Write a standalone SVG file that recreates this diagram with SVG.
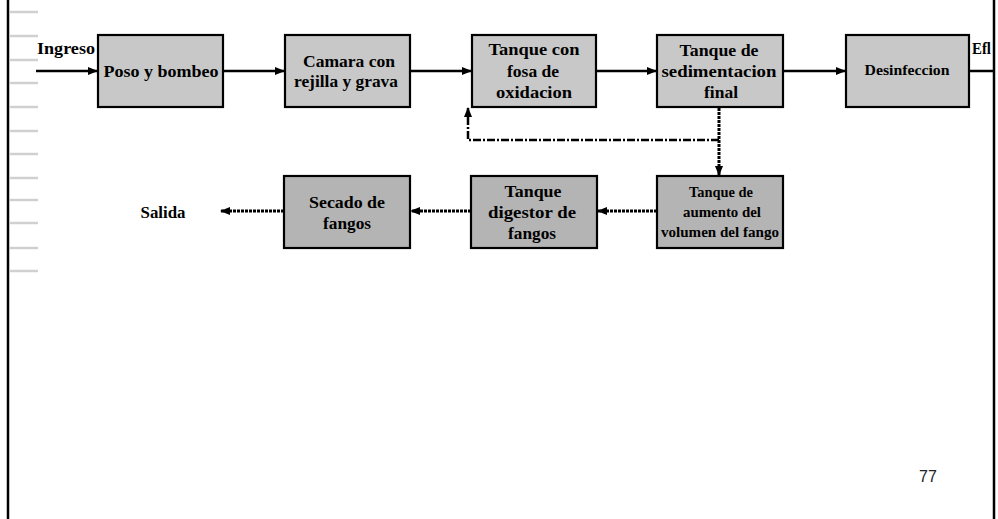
<svg xmlns="http://www.w3.org/2000/svg" width="998" height="519" viewBox="0 0 998 519">
<style>
.bx{stroke:#000;stroke-width:2.2}
.top{fill:#c8c8c8}
.bot{fill:#b4b4b4}
.t{font-family:"Liberation Serif",serif;font-weight:bold;font-size:17px;fill:#000;text-anchor:middle}
.m{font-size:15px}
.s{font-size:14px}
.c{stroke:#000;stroke-width:2.5;fill:none}
.dot{stroke:#000;stroke-width:3;fill:none;stroke-dasharray:3 1}
.dd{stroke:#000;stroke-width:2.5;fill:none;stroke-dasharray:8 2 2 2}
.tick{stroke:#d0d0d0;stroke-width:2.5}
</style>
<defs>
<marker id="ah" markerWidth="10" markerHeight="8" refX="9" refY="4" orient="auto" markerUnits="userSpaceOnUse">
<path d="M0,0 L10,4 L0,8 z" fill="#000"/>
</marker>
</defs>
<rect width="998" height="519" fill="#fff"/>
<g id="frame">
<line x1="8" y1="0" x2="8" y2="519" stroke="#000" stroke-width="2.5"/>
<line x1="994" y1="0" x2="994" y2="519" stroke="#000" stroke-width="2.5"/>
<g class="tick">
<line x1="10" y1="12" x2="38" y2="12"/>
<line x1="10" y1="36" x2="38" y2="36"/>
<line x1="10" y1="60" x2="38" y2="60"/>
<line x1="10" y1="83" x2="38" y2="83"/>
<line x1="10" y1="107" x2="38" y2="107"/>
<line x1="10" y1="131" x2="38" y2="131"/>
<line x1="10" y1="154" x2="38" y2="154"/>
<line x1="10" y1="178" x2="38" y2="178"/>
<line x1="10" y1="200" x2="38" y2="200"/>
<line x1="10" y1="223" x2="38" y2="223"/>
<line x1="10" y1="248" x2="38" y2="248"/>
<line x1="10" y1="271" x2="38" y2="271"/>
</g>
</g>
<g id="connectors">
<line class="c" x1="36" y1="71" x2="97" y2="71" marker-end="url(#ah)"/>
<line class="c" x1="223" y1="71" x2="284" y2="71" marker-end="url(#ah)"/>
<line class="c" x1="410" y1="71" x2="471" y2="71" marker-end="url(#ah)"/>
<line class="c" x1="596" y1="71" x2="656" y2="71" marker-end="url(#ah)"/>
<line class="c" x1="783" y1="71" x2="845" y2="71" marker-end="url(#ah)"/>
<line class="c" x1="969" y1="71" x2="994" y2="71"/>
<path class="dot" d="M719,108 V175" marker-end="url(#ah)"/>
<path class="dd" d="M719,140 H468 V108" marker-end="url(#ah)"/>
<line class="dot" x1="657" y1="211" x2="598" y2="211" marker-end="url(#ah)"/>
<line class="dot" x1="471" y1="211" x2="411" y2="211" marker-end="url(#ah)"/>
<line class="dot" x1="284" y1="211" x2="221" y2="211" marker-end="url(#ah)"/>
</g>
<g id="ingreso"><text class="t" x="66" y="54" textLength="58" lengthAdjust="spacingAndGlyphs">Ingreso</text></g>
<g id="poso">
<rect class="bx top" x="98" y="35" width="125" height="72"/>
<text class="t" x="161" y="77" textLength="115" lengthAdjust="spacingAndGlyphs">Poso y bombeo</text>
</g>
<g id="camara">
<rect class="bx top" x="285" y="35" width="125" height="72"/>
<text class="t" x="349" y="67" textLength="92" lengthAdjust="spacingAndGlyphs">Camara con</text>
<text class="t" x="346" y="87" textLength="104" lengthAdjust="spacingAndGlyphs">rejilla y grava</text>
</g>
<g id="fosa">
<rect class="bx top" x="472" y="35" width="124" height="72"/>
<text class="t" x="534" y="55" textLength="91" lengthAdjust="spacingAndGlyphs">Tanque con</text>
<text class="t" x="533" y="77" textLength="52" lengthAdjust="spacingAndGlyphs">fosa de</text>
<text class="t" x="534" y="98" textLength="76" lengthAdjust="spacingAndGlyphs">oxidacion</text>
</g>
<g id="sedimentacion">
<rect class="bx top" x="657" y="35" width="126" height="72"/>
<text class="t" x="719" y="56" textLength="79" lengthAdjust="spacingAndGlyphs">Tanque de</text>
<text class="t" x="719" y="77" textLength="115" lengthAdjust="spacingAndGlyphs">sedimentacion</text>
<text class="t" x="721" y="98" textLength="34" lengthAdjust="spacingAndGlyphs">final</text>
</g>
<g id="desinfeccion">
<rect class="bx top" x="846" y="35" width="123" height="72"/>
<text class="t m" x="907" y="75" textLength="85" lengthAdjust="spacingAndGlyphs">Desinfeccion</text>
</g>
<g id="efluente"><text class="t" x="972" y="54" style="text-anchor:start" textLength="19" lengthAdjust="spacingAndGlyphs">Efl</text></g>
<g id="aumento">
<rect class="bx bot" x="657" y="176" width="126" height="72"/>
<text class="t s" x="721" y="197" textLength="64" lengthAdjust="spacingAndGlyphs">Tanque de</text>
<text class="t s" x="722" y="217" textLength="78" lengthAdjust="spacingAndGlyphs">aumento del</text>
<text class="t s" x="720" y="237" textLength="118" lengthAdjust="spacingAndGlyphs">volumen del fango</text>
</g>
<g id="digestor">
<rect class="bx bot" x="471" y="176" width="126" height="72"/>
<text class="t" x="533" y="197" textLength="57" lengthAdjust="spacingAndGlyphs">Tanque</text>
<text class="t" x="532" y="218" textLength="88" lengthAdjust="spacingAndGlyphs">digestor de</text>
<text class="t" x="532" y="239" textLength="48" lengthAdjust="spacingAndGlyphs">fangos</text>
</g>
<g id="secado">
<rect class="bx bot" x="284" y="176" width="126" height="72"/>
<text class="t" x="347" y="208" textLength="76" lengthAdjust="spacingAndGlyphs">Secado de</text>
<text class="t" x="347" y="229" textLength="48" lengthAdjust="spacingAndGlyphs">fangos</text>
</g>
<g id="salida"><text class="t" x="163" y="218" textLength="45" lengthAdjust="spacingAndGlyphs">Salida</text></g>
<text x="928" y="482" font-family="Liberation Sans,Arial,sans-serif" font-size="16" fill="#222" text-anchor="middle">77</text>
</svg>
